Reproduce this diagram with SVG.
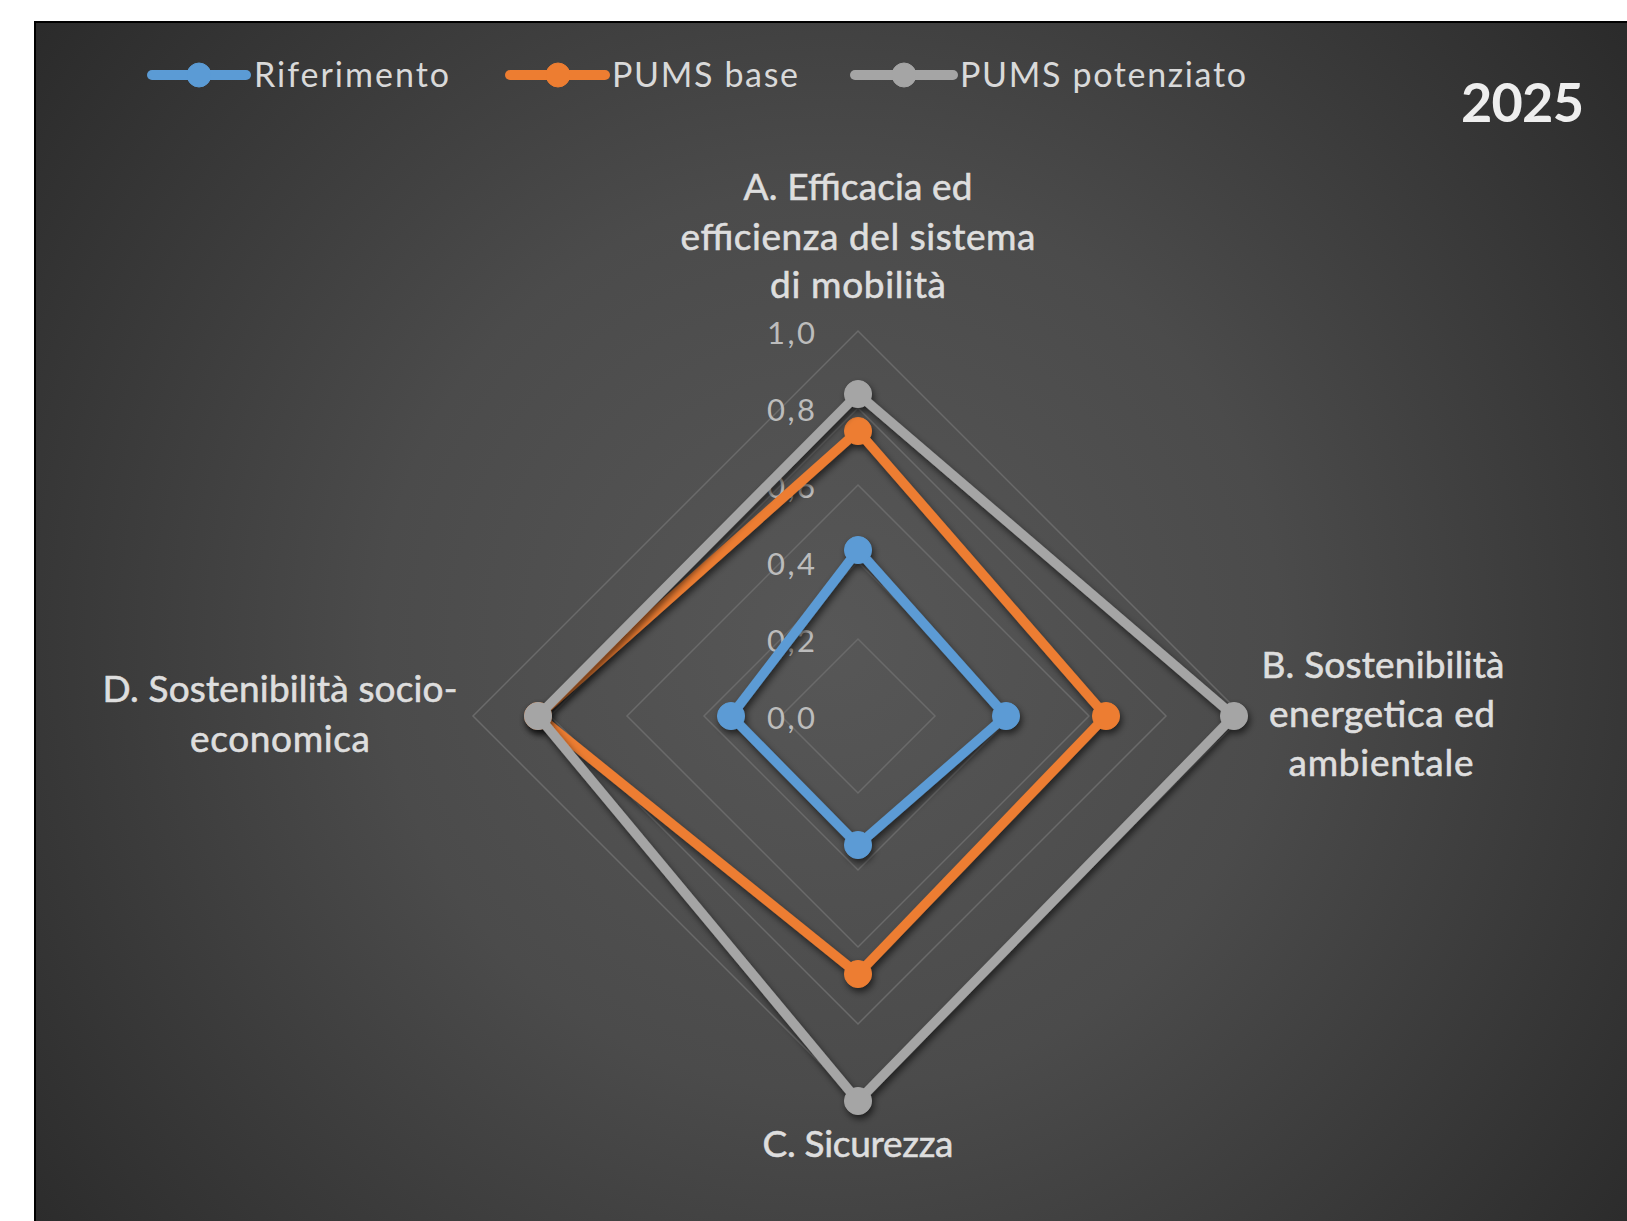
<svg xmlns="http://www.w3.org/2000/svg" width="1627" height="1221" viewBox="0 0 1627 1221">
<defs>
<radialGradient id="bg" gradientUnits="userSpaceOnUse" cx="830" cy="640" r="1000">
<stop offset="0" stop-color="#575757"/>
<stop offset="0.45" stop-color="#4b4b4b"/>
<stop offset="1" stop-color="#2b2b2b"/>
</radialGradient>
<filter id="sh" x="-10%" y="-10%" width="120%" height="120%">
<feDropShadow dx="2" dy="4" stdDeviation="3.5" flood-color="#000" flood-opacity="0.6"/>
</filter>
</defs>
<style>
text{font-family:Lato,"Open Sans","Liberation Sans",sans-serif}
.cat{font-size:37px;fill:#dedede;stroke:#dedede;stroke-width:0.6;text-anchor:middle}
.ax{font-size:31px;fill:#bcbcbc;text-anchor:end}
.leg{font-size:34px;fill:#d9d9d9}
.yr{font-size:54px;font-weight:bold;fill:#eeeeee}
.ring{fill:none;stroke:#6a6a6a;stroke-width:1.5}
.s{fill:none;stroke-width:9.5;stroke-linejoin:round;stroke-linecap:round}
.ref{stroke:#5B9BD5;fill:#5B9BD5}
.base{stroke:#ED7D31;fill:#ED7D31}
.pot{stroke:#A5A5A5;fill:#A5A5A5}
</style>
<rect x="0" y="0" width="1627" height="1221" fill="#ffffff"/>
<rect x="35" y="22" width="1602" height="1210" fill="url(#bg)" stroke="#000" stroke-width="2"/>

<g id="grid">
<polygon class="ring" points="858,639 935,716 858,793 781,716"/>
<polygon class="ring" points="858,562 1012,716 858,870 704,716"/>
<polygon class="ring" points="858,485 1089,716 858,947 627,716"/>
<polygon class="ring" points="858,408 1166,716 858,1024 550,716"/>
<polygon class="ring" points="858,331 1243,716 858,1101 473,716"/>
</g>

<g id="axis-labels">
<text class="ax" x="815" y="344" textLength="48">1,0</text>
<text class="ax" x="815" y="421" textLength="48">0,8</text>
<text class="ax" x="815" y="498" textLength="48">0,6</text>
<text class="ax" x="815" y="575" textLength="48">0,4</text>
<text class="ax" x="815" y="652" textLength="48">0,2</text>
<text class="ax" x="815" y="729" textLength="48">0,0</text>
</g>

<g id="connectors">
<g id="series-riferimento" filter="url(#sh)">
<polygon class="s ref" style="fill:none" points="858,550 1006,716 858,845 731,716"/>
<circle class="ref" cx="858" cy="550" r="13.5"/>
<circle class="ref" cx="1006" cy="716" r="13.5"/>
<circle class="ref" cx="858" cy="845" r="13.5"/>
<circle class="ref" cx="731" cy="716" r="13.5"/>
</g>
<g id="series-pums-base" filter="url(#sh)">
<polygon class="s base" style="fill:none" points="858,431 1106,716 858,974 538,716"/>
<circle class="base" cx="858" cy="431" r="13.5"/>
<circle class="base" cx="1106" cy="716" r="13.5"/>
<circle class="base" cx="858" cy="974" r="13.5"/>
<circle class="base" cx="538" cy="716" r="13.5"/>
</g>
<g id="series-pums-potenziato" filter="url(#sh)">
<polygon class="s pot" style="fill:none" points="858,394 1234,716 858,1101 538,716"/>
<circle class="pot" cx="858" cy="394" r="13.5"/>
<circle class="pot" cx="1234" cy="716" r="13.5"/>
<circle class="pot" cx="858" cy="1101" r="13.5"/>
<circle class="pot" cx="538" cy="716" r="13.5"/>
</g>
</g>

<g id="node-A">
<text class="cat" x="858" y="200" textLength="229">A. Efficacia ed</text>
<text class="cat" x="858" y="250" textLength="355">efficienza del sistema</text>
<text class="cat" x="858" y="298" textLength="176">di mobilità</text>
</g>
<g id="node-B">
<text class="cat" x="1383" y="678" textLength="243">B. Sostenibilità</text>
<text class="cat" x="1382" y="727" textLength="226">energetica ed</text>
<text class="cat" x="1381" y="776" textLength="185">ambientale</text>
</g>
<g id="node-C">
<text class="cat" x="858" y="1157" textLength="191">C. Sicurezza</text>
</g>
<g id="node-D">
<text class="cat" x="280" y="702" textLength="355">D. Sostenibilità socio-</text>
<text class="cat" x="280" y="752" textLength="180">economica</text>
</g>

<g id="legend">
<g id="legend-riferimento">
<line x1="152" y1="75" x2="246" y2="75" class="ref" stroke-width="10" stroke-linecap="round"/>
<circle class="ref" cx="199" cy="75" r="12"/>
<text class="leg" x="254" y="87" textLength="195">Riferimento</text>
</g>
<g id="legend-pums-base">
<line x1="510" y1="75" x2="605" y2="75" class="base" stroke-width="10" stroke-linecap="round"/>
<circle class="base" cx="558" cy="75" r="12"/>
<text class="leg" x="612" y="87" textLength="186">PUMS base</text>
</g>
<g id="legend-pums-potenziato">
<line x1="855" y1="75" x2="953" y2="75" class="pot" stroke-width="10" stroke-linecap="round"/>
<circle class="pot" cx="904" cy="75" r="12"/>
<text class="leg" x="960" y="87" textLength="286">PUMS potenziato</text>
</g>
</g>

<g id="title">
<text class="yr" x="1461" y="122" textLength="123">2025</text>
</g>
</svg>
